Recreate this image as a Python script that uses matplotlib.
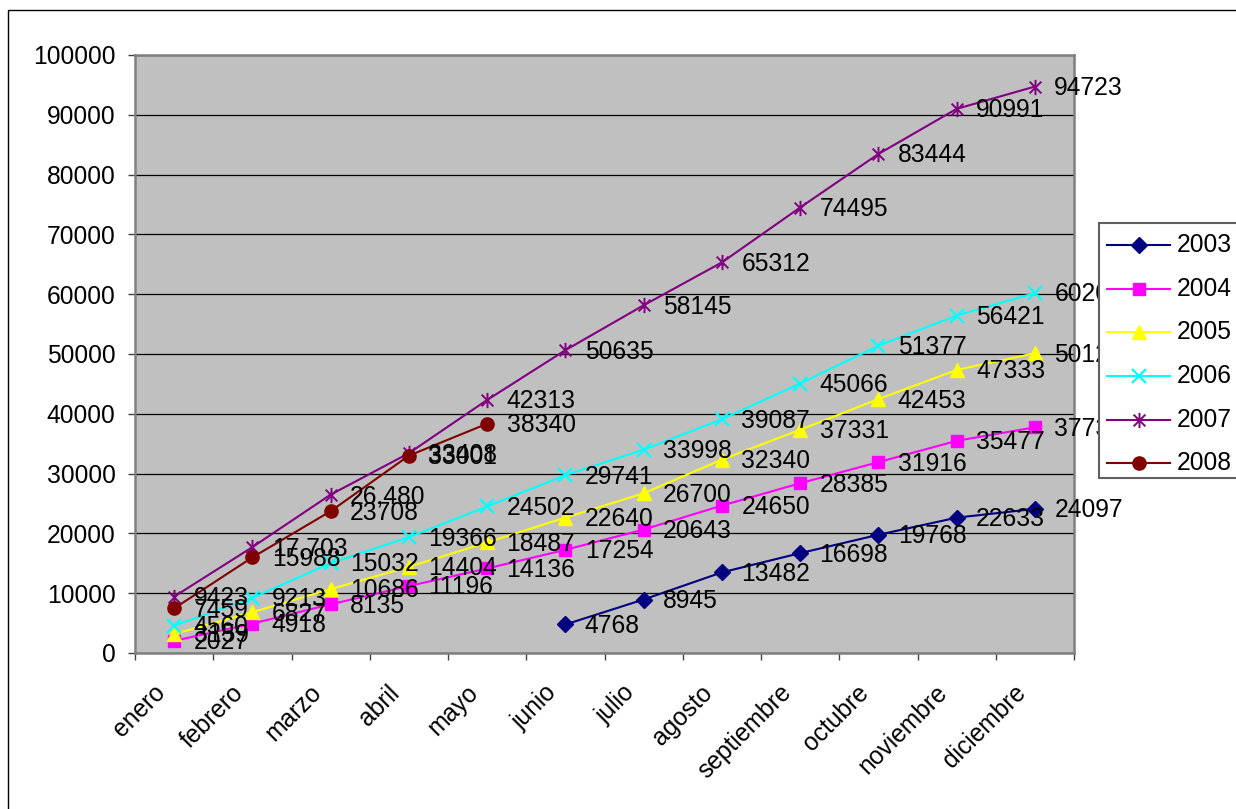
import numpy as np
import matplotlib
matplotlib.use("Agg")
import matplotlib.pyplot as plt
from matplotlib.path import Path
from matplotlib.patches import Rectangle
from matplotlib.lines import Line2D
from matplotlib.transforms import ScaledTranslation

plt.rcParams['font.family'] = ['Liberation Sans', 'DejaVu Sans']

months = ["enero", "febrero", "marzo", "abril", "mayo", "junio", "julio",
          "agosto", "septiembre", "octubre", "noviembre", "diciembre"]
nan = np.nan

y2003 = [nan, nan, nan, nan, nan, 4768, 8945, 13482, 16698, 19768, 22633, 24097]
y2004 = [2027, 4918, 8135, 11196, 14136, 17254, 20643, 24650, 28385, 31916, 35477, 37735]
y2005 = [3159, 6827, 10686, 14404, 18487, 22640, 26700, 32340, 37331, 42453, 47333, 50125]
y2006 = [4560, 9213, 15032, 19366, 24502, 29741, 33998, 39087, 45066, 51377, 56421, 60200]
y2007 = [9423, 17703, 26480, 33408, 42313, 50635, 58145, 65312, 74495, 83444, 90991, 94723]
y2008 = [7459, 15988, 23708, 33001, 38340, nan, nan, nan, nan, nan, nan, nan]

series_names = ["2003", "2004", "2005", "2006", "2007", "2008"]
series_values = [y2003, y2004, y2005, y2006, y2007, y2008]
# a few point labels carry a thousands separator
comma_labels = {("2007", 1), ("2007", 2)}

W, H, DPI = 1236, 809, 100
FS = 17.7

# asterisk marker: an X crossed by a vertical stroke
star = Path([(-1, -1), (1, 1), (-1, 1), (1, -1), (0, -1.3), (0, 1.3)],
            [Path.MOVETO, Path.LINETO, Path.MOVETO, Path.LINETO, Path.MOVETO, Path.LINETO])

styles = {
    "2003": dict(color="#000080", marker="D", ms=8),
    "2004": dict(color="#FF00FF", marker="s", ms=8.5),
    "2005": dict(color="#FFFF00", marker="^", ms=10),
    "2006": dict(color="#00FFFF", marker="x", ms=10, mew=1.6),
    "2007": dict(color="#800080", marker=star, ms=11, mew=1.4),
    "2008": dict(color="#800000", marker="o", ms=9.5),
}

fig = plt.figure(figsize=(W / DPI, H / DPI), dpi=DPI)
fig.patch.set_facecolor("white")

ax = fig.add_axes([135 / W, 1 - 653 / H, (1074 - 135) / W, (653 - 55) / H])
ax.set_facecolor("#C0C0C0")
x = np.arange(len(months))

for name, vals in zip(series_names, series_values):
    st = styles[name]
    ax.plot(x, vals, color=st["color"], lw=1.5, marker=st["marker"],
            ms=st["ms"], mec=st["color"], mfc=st["color"],
            mew=st.get("mew", 1.0), zorder=3)

for name, vals in zip(series_names, series_values):
    for i, v in enumerate(vals):
        if np.isnan(v):
            continue
        txt = f"{int(v):,}" if (name, i) in comma_labels else f"{int(v)}"
        ax.annotate(txt, (i, v), xytext=(14, -1), textcoords="offset points",
                    ha="left", va="center", fontsize=FS, color="black",
                    zorder=5, annotation_clip=False)

ax.set_xlim(-0.5, 11.5)
ax.set_ylim(0, 100000)
ax.set_yticks(np.arange(0, 100001, 10000))
ax.set_yticklabels([str(v) for v in range(0, 100001, 10000)], fontsize=FS)
ax.yaxis.grid(True, color="black", lw=0.9)
ax.set_axisbelow(True)

# category ticks sit on the boundaries; month names are set below them
ax.set_xticks(np.arange(-0.5, 12, 1))
ax.set_xticklabels([])
ax.tick_params(axis="x", length=5, width=1, color="#404040")
month_tr = ax.get_xaxis_transform() + ScaledTranslation(-13 / DPI, -36 / DPI, fig.dpi_scale_trans)
for i, m in enumerate(months):
    ax.text(i, 0, m, transform=month_tr, fontsize=FS, rotation=45,
            ha="right", va="center", rotation_mode="anchor", clip_on=False)

ax.tick_params(axis="y", length=5, width=1, color="#404040", pad=9)
for sp in ax.spines.values():
    sp.set_color("#808080")
    sp.set_linewidth(1.8)

# overlay in pixel coordinates for the chart frame and the legend
ov = fig.add_axes([0, 0, 1, 1], zorder=10)
ov.set_xlim(0, W)
ov.set_ylim(H, 0)
ov.axis("off")
ov.patch.set_alpha(0)
ov.add_patch(Rectangle((8, 10), W + 50, H + 50, fill=False, ec="black", lw=1.0))

ov.add_patch(Rectangle((1099, 223), 200, 255, fc="white", ec="#606060", lw=1.5))
row_y = [245, 289, 332, 376, 420, 463]
for name, ry in zip(series_names, row_y):
    st = styles[name]
    ov.add_line(Line2D([1107, 1170], [ry, ry], color=st["color"], lw=1.5))
    ov.add_line(Line2D([1138.5], [ry], marker=st["marker"], ms=st["ms"],
                       mec=st["color"], mfc=st["color"], mew=st.get("mew", 1.0),
                       ls="none"))
    ov.text(1177, ry, name, fontsize=FS, ha="left", va="center")

fig.savefig("out.png", dpi=DPI)
